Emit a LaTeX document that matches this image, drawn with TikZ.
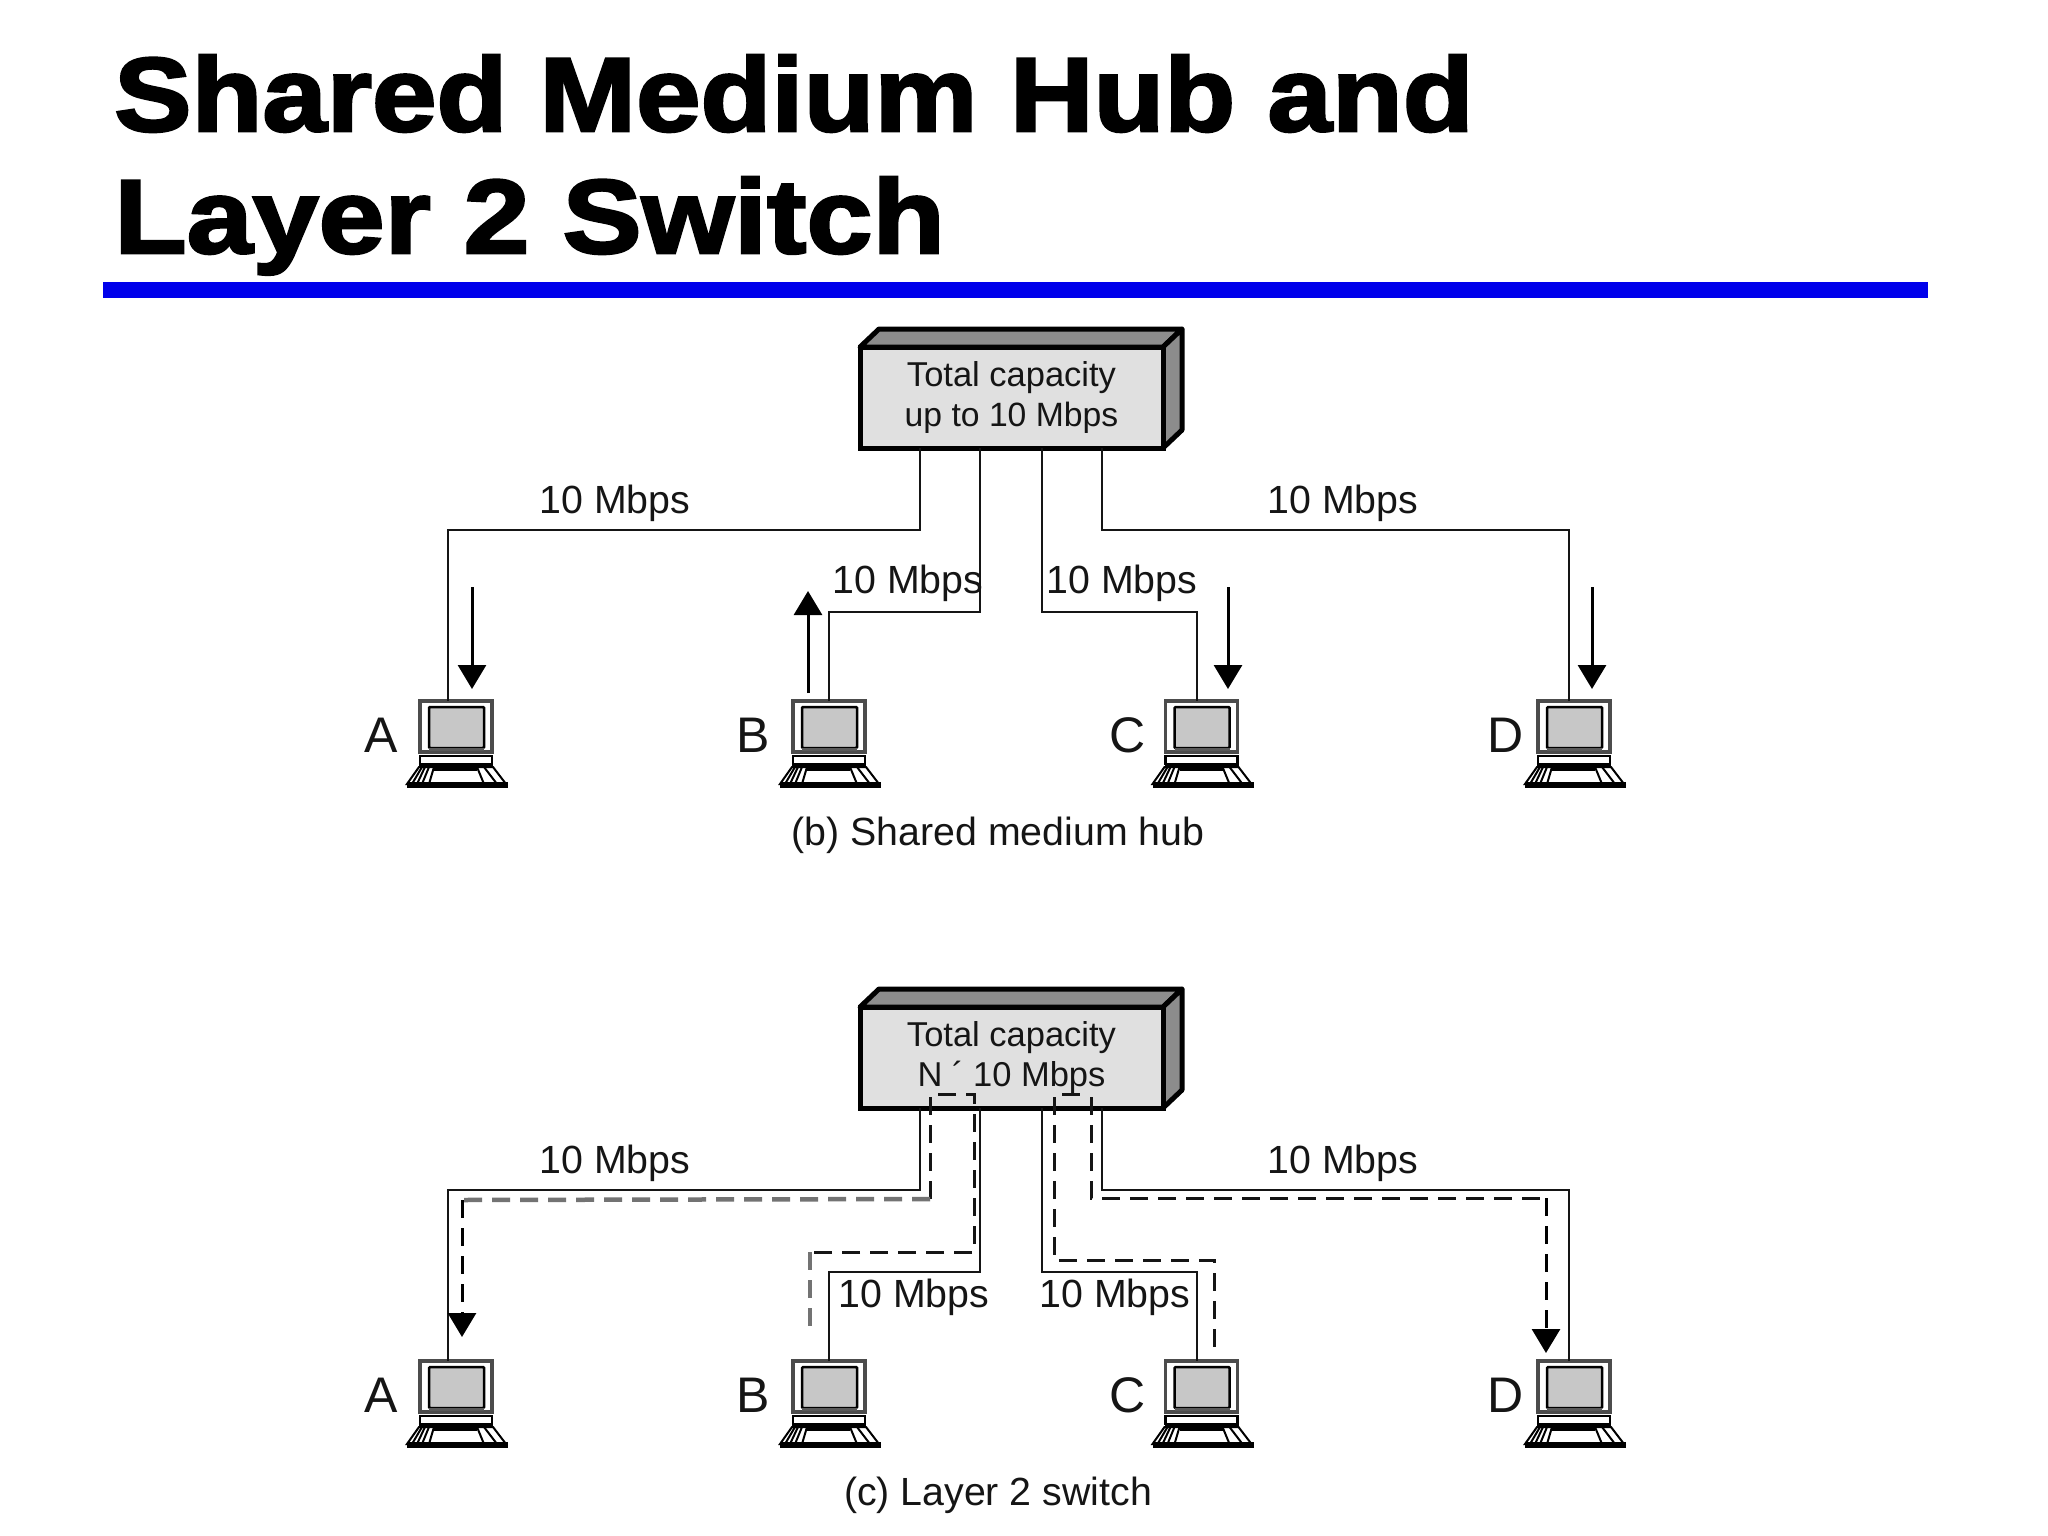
\documentclass[tikz,border=0pt]{standalone}
\usepackage{fontspec}
\setmainfont{Liberation Sans}
\newfontfamily\ttl{Liberation Sans}[BoldFeatures={FakeBold=2.5,FakeStretch=1.11}]
\usetikzlibrary{arrows.meta}
\definecolor{ink}{HTML}{151515}
\tikzset{
  x=1pt,y=-1pt,
  wire/.style={line width=2.8pt,draw=ink},
  flow/.style={line width=3pt,draw=black,-{Triangle[width=28pt,length=24pt]}},
  dsh/.style={line width=3pt,draw=ink,dash pattern=on 18pt off 10pt},
  dshg/.style={line width=4.5pt,draw=gray!90!black,dash pattern=on 18pt off 10pt},
  lbl/.style={inner sep=0pt,anchor=base,text=ink,font=\fontsize{39.3}{39.3}\selectfont},
  big/.style={inner sep=0pt,anchor=base,text=ink,font=\fontsize{50}{50}\selectfont},
  hubbox/.style={draw=black,line width=5pt,fill=black!12,minimum width=303pt,minimum height=101pt,inner sep=0pt,outer sep=0pt,
    align=center,text=ink,font=\fontsize{34.5}{40}\selectfont},
  hubtop/.style={draw=black,line width=5pt,line join=round,fill=black!45},
  monbox/.style={draw=black!70,line width=3.5pt,fill=white,minimum width=72pt,minimum height=51pt,inner sep=0pt,outer sep=0pt},
  pc/.pic={
    \node[monbox] (-m) at (0,25.5) {};
    \draw[line width=2.5pt,fill=black!22,rounded corners=1pt] (-27,6) rectangle (28,47);
    \fill[black!65] (-27,47) rectangle (28,50);
    \draw[line width=2.5pt,fill=white] (-36,55) rectangle (36,63);
    \fill[black] (-37,63) rectangle (37,67);
    \draw[line width=2pt,fill=white] (-37,66) -- (37,66) -- (50,83) -- (-49,83) -- cycle;
    \foreach \a/\b in {-34/-44,-31/-39,-27/-34,-22/-27,21/28,28/41}
      \draw[line width=2pt] (\a,66) -- (\b,83);
    \fill[black] (-22,66) rectangle (21,70);
    \fill[black] (-49,81) rectangle (52,87);
  }
}
\begin{document}
\begin{tikzpicture}
\path[use as bounding box,fill=white] (0,0) rectangle (2048,1536);
% title
\node[inner sep=0pt,anchor=base west,font=\fontsize{105}{105}\selectfont\ttl\bfseries] (t1) at (114,131) {\scalebox{0.995}[1]{Shared Medium Hub and}};
\node[inner sep=0pt,anchor=base west,font=\fontsize{105}{105}\selectfont\ttl\bfseries] (t2) at (114,253) {\scalebox{1.018}[1]{Layer 2 Switch}};
\fill[blue!92!black] (103,282) rectangle (1928,298);
% ---------- panel b
\draw[hubtop] (860,347) -- (879,329) -- (1182,329) -- (1163,347) -- cycle;
\draw[hubtop] (1163,347) -- (1182,329) -- (1182,430) -- (1163,448) -- cycle;
\node[hubbox] (hb) at (1011.5,397.5) {Total capacity\\\fontsize{33.7}{40}\selectfont up to 10 Mbps};
\pic (ba) at (456,701) {pc};
\pic (bb) at (829,701) {pc};
\pic (bc) at (1201.5,701) {pc};
\pic (bd) at (1574,701) {pc};
\node[big] (bla) at (381,752) {A};
\node[big] (blb) at (753,752) {B};
\node[big] (blc) at (1127.5,752) {C};
\node[big] (bld) at (1506,752) {D};
\foreach \n/\x/\y in {p1/920/448,p2/980/448,p3/1042/448,p4/1102/448,k1/448/530,k2/829/612,k3/1197/612,k4/1569/530}
  \coordinate (b\n) at (\x,\y);
\draw[wire] (bp1) |- (bk1) -- (bk1 |- ba-m.north);
\draw[wire] (bp2) |- (bk2) -- (bk2 |- bb-m.north);
\draw[wire] (bp3) |- (bk3) -- (bk3 |- bc-m.north);
\draw[wire] (bp4) |- (bk4) -- (bk4 |- bd-m.north);
\foreach \n/\x/\y in {s1/472/587,e1/472/689,s2/808/693,e2/808/591,s3/1228/587,e3/1228/689,s4/1592/587,e4/1592/689}
  \coordinate (a\n) at (\x,\y);
\draw[flow] (as1) -- (ae1);
\draw[flow] (as2) -- (ae2);
\draw[flow] (as3) -- (ae3);
\draw[flow] (as4) -- (ae4);
\node[lbl] (bm1) at (615,513) {10 Mbps};
\node[lbl] (bm2) at (1343,513) {10 Mbps};
\node[lbl] (bm3) at (908,593) {10 Mbps};
\node[lbl] (bm4) at (1122,593) {10 Mbps};
\node[lbl] (bcap) at (998,845) {(b) Shared medium hub};
% ---------- panel c
\draw[hubtop] (860,1007) -- (879,989) -- (1182,989) -- (1163,1007) -- cycle;
\draw[hubtop] (1163,1007) -- (1182,989) -- (1182,1090) -- (1163,1108) -- cycle;
\node[hubbox] (hc) at (1011.5,1057.5) {Total capacity\\N ´ 10 Mbps};
\pic (ca) at (456,1361) {pc};
\pic (cb) at (829,1361) {pc};
\pic (cc) at (1201.5,1361) {pc};
\pic (cd) at (1574,1361) {pc};
\node[big] (cla) at (381,1412) {A};
\node[big] (clb) at (753,1412) {B};
\node[big] (clc) at (1127.5,1412) {C};
\node[big] (cld) at (1506,1412) {D};
\foreach \n/\x/\y in {p1/920/1108,p2/980/1108,p3/1042/1108,p4/1102/1108,k1/448/1190,k2/829/1272,k3/1197/1272,k4/1569/1190}
  \coordinate (c\n) at (\x,\y);
\draw[wire] (cp1) |- (ck1) -- (ck1 |- ca-m.north);
\draw[wire] (cp2) |- (ck2) -- (ck2 |- cb-m.north);
\draw[wire] (cp3) |- (ck3) -- (ck3 |- cc-m.north);
\draw[wire] (cp4) |- (ck4) -- (ck4 |- cd-m.north);
\node[lbl] (cm1) at (615,1173) {10 Mbps};
\node[lbl] (cm2) at (1343,1173) {10 Mbps};
\node[lbl] (cm3) at (914,1307) {10 Mbps};
\node[lbl] (cm4) at (1115,1307) {10 Mbps};
\node[lbl] (ccap) at (998,1505) {(c) Layer 2 switch};
% dashed routes
\foreach \n/\x/\y in {a/930/1097,b/930/1199,c/462/1200,d/462/1337,e/974/1094,f/974/1252,g/810/1252,h/810/1335,
  i/1054/1097,j/1054/1260,k/1214/1260,l/1214/1350,m/1091/1097,n/1091/1198,o/1546/1198,q/1546/1353,r/938/1094,t/1062/1094,u/1080/1094}
  \coordinate (d\n) at (\x,\y);
\draw[dsh] (da) -- (db);
\draw[dshg] (db) -- (dc);
\draw[flow,dash pattern=on 18pt off 10pt] (dc) -- (dd);
\draw[dsh] (dr) -- (de) -- (df) -- (dg);
\draw[dshg] (dg) -- (dh);
\draw[dsh] (di) -- (dj) -- (dk) -- (dl);
\draw[dsh] (dt) -- (du);
\draw[dsh] (dm) -- (dn) -- (do);
\draw[flow,dash pattern=on 18pt off 10pt] (do) -- (dq);
\end{tikzpicture}
\end{document}
